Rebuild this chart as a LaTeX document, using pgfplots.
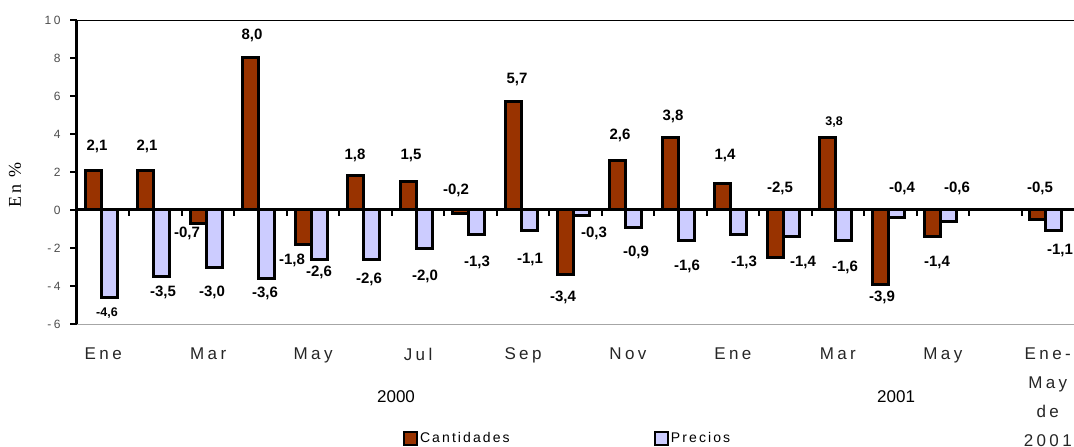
\documentclass[border=0pt]{standalone}
\usepackage{fontspec}
\setmainfont{Liberation Sans}
\newfontfamily\spaced[LetterSpace=20]{Liberation Sans}
\newfontfamily\legfont[LetterSpace=15]{Liberation Sans}
\newfontfamily\serif[LetterSpace=15]{Liberation Serif}
\usepackage{pgfplots}
\pgfplotsset{compat=1.18}
\definecolor{cant}{HTML}{993300}
\definecolor{prec}{HTML}{CCCCFF}
\newcommand{\lab}[3]{\node[font=\fontsize{15}{17}\selectfont\bfseries] at (axis cs:#1,#2) {#3};}
\newcommand{\slab}[3]{\node[font=\fontsize{12.5}{14}\selectfont\bfseries] at (axis cs:#1,#2) {#3};}
\begin{document}
\begin{tikzpicture}
\begin{axis}[
  scale only axis,
  width=997pt, height=304pt,
  xmin=-0.5, xmax=18.5,
  ymin=-6, ymax=10,
  clip=false,
  axis x line*=bottom,
  axis y line*=left,
  x axis line style={gray!70, line width=1pt},
  y axis line style={black, line width=3pt},
  xtick={0,2,4,6,8,10,12,14,16,18},
  xticklabels={Ene,Mar,May,Jul,Sep,Nov,Ene,Mar,May,{Ene-\\[10pt]May\\[10pt]de\\[10pt]2001}},
  xtick style={draw=none},
  xticklabel style={font=\spaced\fontsize{17}{19}\selectfont, color=black!85, anchor=north, yshift=-20.5pt, align=center},
  ytick={-6,-4,-2,0,2,4,6,8,10},
  yticklabels={-6,-4,-2,0,2,4,6,8,10},
  yticklabel style={font=\spaced\fontsize{12}{14}\selectfont, color=black!70, xshift=-6pt},
  ytick style={black, line width=2pt},
  major tick length=7pt,
  ytick align=outside,
  ylabel={En \%},
  ylabel style={font=\serif\fontsize{18}{20}\selectfont, at={(rel axis cs:-0.0622,0.457)}, anchor=center},
  legend columns=2,
  legend style={at={(rel axis cs:0.492,-0.375)}, anchor=center, draw=none, fill=none,
    font=\legfont\fontsize{14}{16}\selectfont,
    /tikz/every even column/.append style={column sep=142pt}},
  legend image code/.code={\draw[#1, line width=2.2pt] (-5pt,-7pt) rectangle (8pt,6pt);},
]
\addplot[ybar, bar width=16pt, bar shift=-10pt, fill=cant, draw=black, line width=3pt]
  coordinates {(0,2.1) (1,2.1) (2,-0.7) (3,8.0) (4,-1.8) (5,1.8) (6,1.5) (7,-0.2) (8,5.7)
    (9,-3.4) (10,2.6) (11,3.8) (12,1.4) (13,-2.5) (14,3.8) (15,-3.9) (16,-1.4) (18,-0.5)};
\addlegendentry{Cantidades}
\addplot[ybar, bar width=16pt, bar shift=6pt, fill=prec, draw=black, line width=3pt]
  coordinates {(0,-4.6) (1,-3.5) (2,-3.0) (3,-3.6) (4,-2.6) (5,-2.6) (6,-2.0) (7,-1.3) (8,-1.1)
    (9,-0.3) (10,-0.9) (11,-1.6) (12,-1.3) (13,-1.4) (14,-1.6) (15,-0.4) (16,-0.6) (18,-1.1)};
\addlegendentry{Precios}
% zero line with its small ticks, the left axis and the thin top border
\draw[black, line width=3pt] (axis cs:-0.5,0) -- (axis cs:18.5,0);
\pgfplotsinvokeforeach{0.5,1.5,...,17.5}{\draw[black, line width=2pt] (axis cs:#1,0) -- (axis cs:#1,-0.33);}
\draw[black, line width=3pt] (rel axis cs:0,0) -- (rel axis cs:0,1);
\pgfplotsinvokeforeach{-6,-4,...,10}{\draw[black, line width=2pt] (axis cs:-0.5,#1) -- (axis cs:-0.64,#1);}
\draw[black, line width=0.8pt] (rel axis cs:0,1) -- (rel axis cs:1,1);
% year labels
\node[font=\fontsize{17}{19}\selectfont] at (axis cs:5.58,-9.84) {2000};
\node[font=\fontsize{17}{19}\selectfont] at (axis cs:15.11,-9.84) {2001};
% value labels
\lab{-0.119}{3.32}{2,1}
\lab{0.834}{3.32}{2,1}
\lab{1.596}{-1.21}{-0,7}
\lab{2.835}{9.21}{8,0}
\lab{3.598}{-2.63}{-1,8}
\lab{4.112}{-3.26}{-2,6}
\lab{4.798}{2.89}{1,8}
\slab{0.072}{-5.42}{-4,6}
\lab{1.139}{-4.32}{-3,5}
\lab{2.073}{-4.32}{-3,0}
\lab{3.083}{-4.37}{-3,6}
\lab{5.065}{-3.68}{-2,6}
\lab{5.866}{2.89}{1,5}
\lab{6.132}{-3.47}{-2,0}
\lab{6.723}{1.05}{-0,2}
\lab{7.123}{-2.74}{-1,3}
\lab{7.886}{6.89}{5,7}
\lab{8.133}{-2.58}{-1,1}
\lab{8.762}{-4.58}{-3,4}
\lab{9.353}{-1.21}{-0,3}
\lab{9.849}{3.95}{2,6}
\lab{10.154}{-2.21}{-0,9}
\lab{10.859}{4.95}{3,8}
\lab{11.126}{-2.95}{-1,6}
\lab{11.850}{2.89}{1,4}
\lab{12.212}{-2.74}{-1,3}
\lab{12.898}{1.16}{-2,5}
\lab{13.337}{-2.74}{-1,4}
\slab{13.927}{4.63}{3,8}
\lab{14.137}{-3.0}{-1,6}
\lab{14.842}{-4.58}{-3,9}
\lab{15.223}{1.16}{-0,4}
\lab{15.890}{-2.74}{-1,4}
\lab{16.271}{1.16}{-0,6}
\lab{17.853}{1.16}{-0,5}
\lab{18.234}{-2.11}{-1,1}
\end{axis}
\pgfresetboundingbox
\path[use as bounding box] (-77pt,-123pt) rectangle (997pt,324pt);
\end{tikzpicture}
\end{document}
